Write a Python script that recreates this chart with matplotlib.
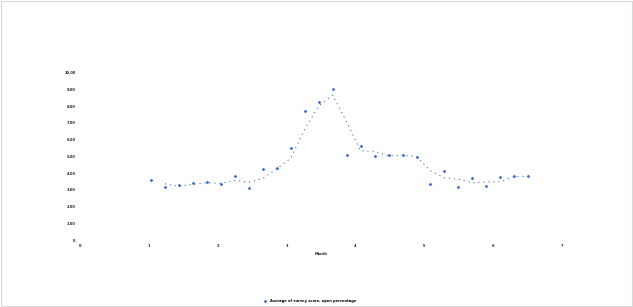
import numpy as np
import matplotlib
matplotlib.use("Agg")
import matplotlib.pyplot as plt
from matplotlib.patches import Rectangle

# =============================================================================
#  Data
# =============================================================================

x_values = [1.03 + 0.203 * i for i in range(28)]
y_values = [3.57, 3.15, 3.27, 3.39, 3.45, 3.33, 3.81, 3.10, 4.23, 4.29,
            5.48, 7.74, 8.27, 9.05, 5.06, 5.60, 5.00, 5.06, 5.06, 4.94,
            3.33, 4.11, 3.15, 3.69, 3.23, 3.77, 3.81, 3.81]
x_ticks = [0, 1, 2, 3, 4, 5, 6, 7]
y_ticks = [0, 1, 2, 3, 4, 5, 6, 7, 8, 9, 10]
series_label = "Average of survey score, open percentage"
x_title = "Month"

blue = "#4472C4"

# 2 period moving average, plotted at the second point (Excel style)
y_arr = np.array(y_values)
ma_y = (y_arr[1:] + y_arr[:-1]) / 2
ma_x = x_values[1:]

# =============================================================================
#  Plot
# =============================================================================

fig = plt.figure(figsize=(6.33, 3.07), dpi=100)
ax = fig.add_axes([80 / 633, 1 - 240 / 307, 482 / 633, 167.3 / 307])

ax.scatter(x_values, y_values, marker="D", s=3.5, color=blue, linewidths=0,
           label=series_label, zorder=3)
ax.plot(ma_x, ma_y, linestyle=(0, (1, 3.5)), color=blue, linewidth=0.8)

ax.set_xlim(0, 7)
ax.set_ylim(0, 10)
ax.set_xticks(x_ticks)
ax.set_yticks(y_ticks)
ax.set_xticklabels([str(t) for t in x_ticks], fontsize=2.6, fontweight="bold")
ax.set_yticklabels([f"{t:.2f}" if t else "0" for t in y_ticks],
                   fontsize=2.6, fontweight="bold")
ax.tick_params(length=0, pad=3, colors="#222222")
for s in ax.spines.values():
    s.set_visible(False)
ax.set_xlabel(x_title, fontsize=2.6, fontweight="bold", labelpad=3,
              color="#222222")

fig.legend(loc="center", bbox_to_anchor=(309 / 633, 1 - 301 / 307),
           prop={"size": 2.6, "weight": "bold"}, frameon=False,
           markerscale=1.0, handletextpad=0.4)

fig.patches.append(Rectangle((0.001, 0.002), 0.997, 0.995, transform=fig.transFigure,
                             fill=False, edgecolor="#d9d9d9", linewidth=0.8))

fig.savefig("out.png", dpi=100)
